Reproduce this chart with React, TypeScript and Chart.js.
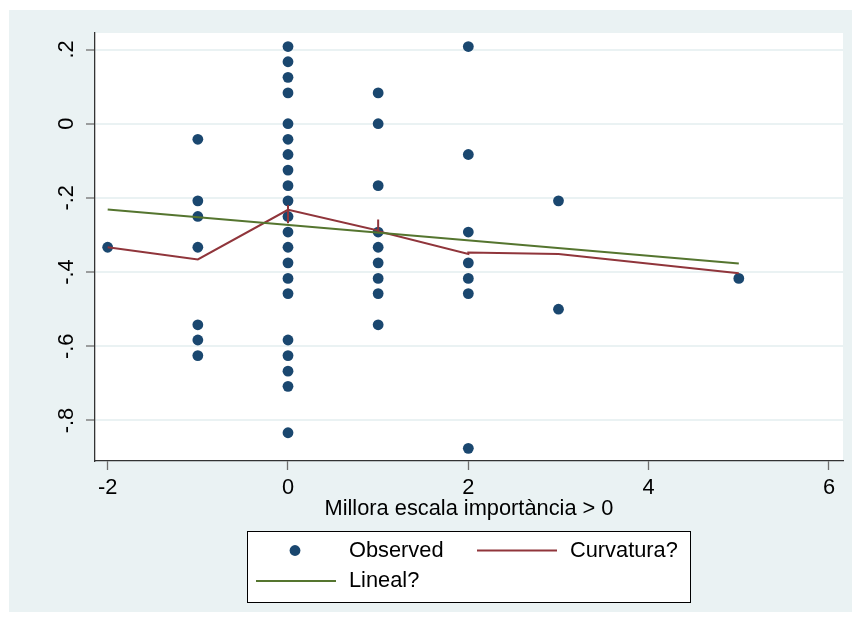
import React, { useEffect, useRef } from "react";
import { Chart, registerables } from "chart.js";

Chart.register(...registerables);

// Observed points (x = change in importance scale, y = outcome)
const obsX = [
  -2,
  -1, -1, -1, -1, -1, -1, -1,
  0, 0, 0, 0, 0, 0, 0, 0, 0, 0, 0, 0, 0, 0, 0, 0, 0, 0, 0, 0, 0,
  1, 1, 1, 1, 1, 1, 1, 1, 1,
  2, 2, 2, 2, 2, 2, 2,
  3, 3,
  5,
];
const obsY = [
  -0.333,
  -0.042, -0.208, -0.25, -0.333, -0.542, -0.583, -0.625,
  0.208, 0.167, 0.125, 0.083, 0, -0.042, -0.083, -0.125, -0.167, -0.208, -0.25, -0.292, -0.333, -0.375, -0.417, -0.458, -0.583, -0.625, -0.667, -0.708, -0.833,
  0.083, 0, -0.167, -0.292, -0.333, -0.375, -0.417, -0.458, -0.542,
  0.208, -0.083, -0.292, -0.375, -0.417, -0.458, -0.875,
  -0.208, -0.5,
  -0.417,
];

// "Curvatura?" fitted line
const curvX = [-2, -1, 0, 0, 0, 0, 1, 1, 1, 2, 2, 3, 5];
const curvY = [-0.333, -0.366, -0.232, -0.268, -0.219, -0.232, -0.288, -0.258, -0.29, -0.351, -0.347, -0.351, -0.403];

// "Lineal?" fitted line
const linX = [-2, 5];
const linY = [-0.231, -0.377];

const xTicks = [-2, 0, 2, 4, 6];
const yTicks = [-0.8, -0.6, -0.4, -0.2, 0, 0.2];

const labels = ["Observed", "Curvatura?", "Lineal?"];
const xTitle = "Millora escala importància > 0";

const NAVY = "#1a476f";
const MAROON = "#90353b";
const GREEN = "#55752f";
const BG = "#eaf2f3";
const FONT = "'Liberation Sans', Arial, Helvetica, sans-serif";
const FSIZE = 21.8;

const fmtY = (v: number) =>
  v === 0 ? "0" : (v < 0 ? "-" : "") + Math.abs(v).toFixed(1).replace(/^0/, "");

const plotBg = {
  id: "plotBg",
  beforeDraw(chart: any) {
    const { ctx, chartArea } = chart;
    ctx.save();
    ctx.fillStyle = "#ffffff";
    ctx.fillRect(chartArea.left, chartArea.top, chartArea.right - chartArea.left, chartArea.bottom - chartArea.top);
    ctx.restore();
  },
};

const legendBox = {
  id: "legendBox",
  afterDraw(chart: any) {
    const { ctx } = chart;
    const ds = chart.data.datasets;
    ctx.save();
    // box
    ctx.fillStyle = "#ffffff";
    ctx.fillRect(238, 521, 443, 71);
    ctx.strokeStyle = "#000000";
    ctx.lineWidth = 1;
    ctx.strokeRect(238.5, 521.5, 443, 71);
    const row1 = 540.5;
    const row2 = 571;
    // Observed marker
    ctx.fillStyle = ds[0].backgroundColor;
    ctx.beginPath();
    ctx.arc(286, row1, 5.4, 0, Math.PI * 2);
    ctx.fill();
    // Curvatura line
    ctx.lineWidth = 2;
    ctx.strokeStyle = ds[1].borderColor;
    ctx.beginPath();
    ctx.moveTo(468, row1);
    ctx.lineTo(548, row1);
    ctx.stroke();
    // Lineal line
    ctx.strokeStyle = ds[2].borderColor;
    ctx.beginPath();
    ctx.moveTo(247, row2);
    ctx.lineTo(327, row2);
    ctx.stroke();
    // texts
    ctx.fillStyle = "#000000";
    ctx.font = `${FSIZE}px ${FONT}`;
    ctx.textBaseline = "middle";
    ctx.textAlign = "left";
    ctx.fillText(ds[0].label, 340, row1);
    ctx.fillText(ds[1].label, 561, row1);
    ctx.fillText(ds[2].label, 340, row2);
    ctx.restore();
  },
};

export default function App() {
  const ref = useRef<HTMLCanvasElement>(null);

  useEffect(() => {
    if (!ref.current) return;
    const chart = new Chart(ref.current, {
      type: "scatter",
      data: {
        datasets: [
          {
            label: labels[0],
            data: obsX.map((x, i) => ({ x, y: obsY[i] })),
            backgroundColor: NAVY,
            borderColor: NAVY,
            borderWidth: 0,
            pointRadius: 5.4,
            showLine: false,
            order: 2,
          },
          {
            label: labels[1],
            data: curvX.map((x, i) => ({ x, y: curvY[i] })),
            borderColor: MAROON,
            backgroundColor: MAROON,
            borderWidth: 2,
            pointRadius: 0,
            showLine: true,
            tension: 0,
            order: 1,
          },
          {
            label: labels[2],
            data: linX.map((x, i) => ({ x, y: linY[i] })),
            borderColor: GREEN,
            backgroundColor: GREEN,
            borderWidth: 2,
            pointRadius: 0,
            showLine: true,
            tension: 0,
            order: 0,
          },
        ],
      },
      options: {
        animation: false,
        responsive: false,
        events: [],
        layout: { padding: { left: 0, top: 23, right: 9, bottom: 0 } },
        plugins: { legend: { display: false }, tooltip: { enabled: false } },
        scales: {
          x: {
            type: "linear",
            min: -2.1406,
            max: 6.1557,
            afterBuildTicks: (s: any) => {
              s.ticks = xTicks.map((v) => ({ value: v }));
            },
            afterFit: (s: any) => {
              s.height = 151;
            },
            grid: { drawOnChartArea: false, tickColor: "#6e6e6e", tickWidth: 1.3, tickLength: 9 },
            border: { color: "#333333", width: 1.3 },
            ticks: {
              autoSkip: false,
              maxRotation: 0,
              padding: 5,
              color: "#000000",
              font: { family: FONT, size: FSIZE },
              callback: (v: any) => String(v),
            },
            title: {
              display: true,
              text: xTitle,
              color: "#000000",
              font: { family: FONT, size: FSIZE },
              padding: { top: 0, bottom: 90 },
            },
          },
          y: {
            type: "linear",
            min: -0.9092,
            max: 0.2445,
            afterBuildTicks: (s: any) => {
              s.ticks = yTicks.map((v) => ({ value: v }));
            },
            afterFit: (s: any) => {
              s.width = 86;
            },
            grid: { color: BG, lineWidth: 2, tickColor: "#6e6e6e", tickWidth: 1.3, tickLength: 9 },
            border: { color: "#333333", width: 1.3 },
            ticks: {
              minRotation: 90,
              maxRotation: 90,
              crossAlign: "center",
              padding: 6,
              color: "#000000",
              font: { family: FONT, size: FSIZE },
              callback: (v: any) => fmtY(Number(v)),
            },
          },
        },
      },
      plugins: [plotBg, legendBox],
    });
    return () => chart.destroy();
  }, []);

  return (
    <div style={{ position: "absolute", left: 9, top: 10, width: 843, height: 602, background: BG }}>
      <canvas ref={ref} width={843} height={602} style={{ display: "block" }} />
    </div>
  );
}
